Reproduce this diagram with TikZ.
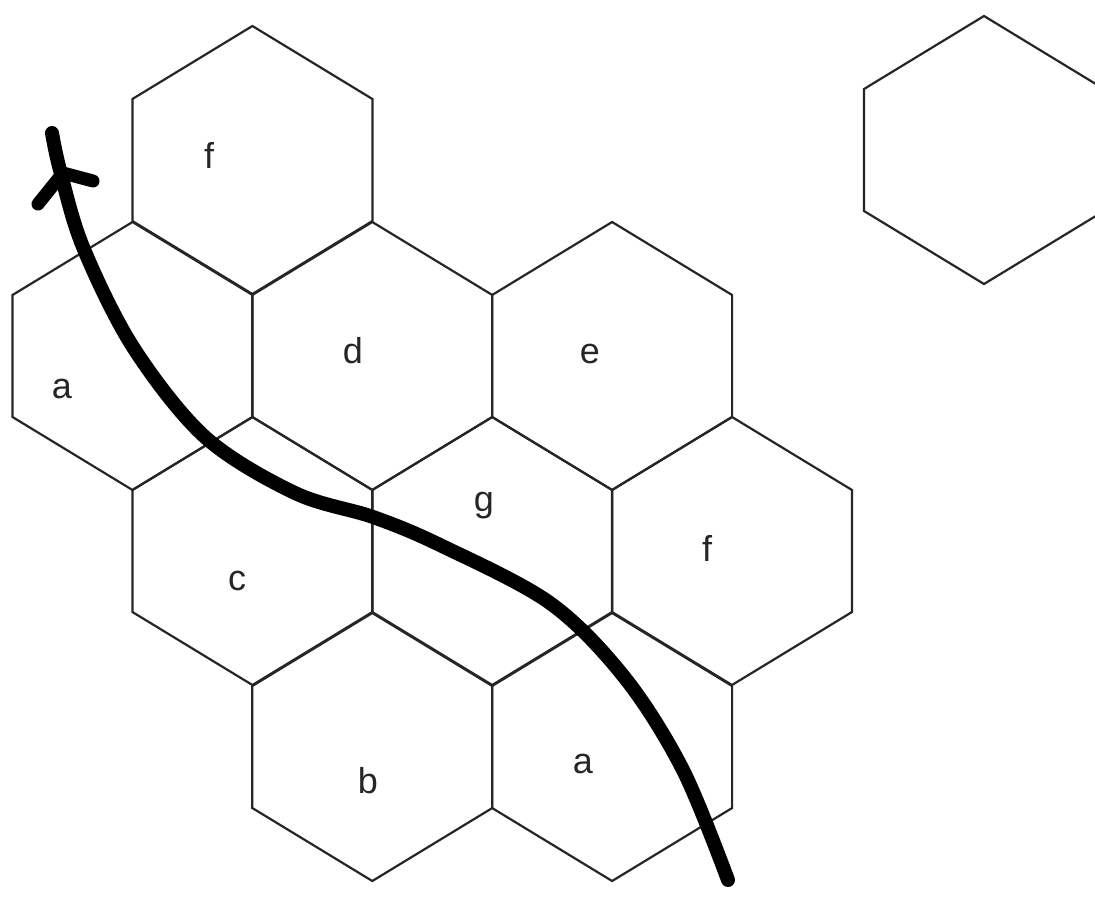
\documentclass[tikz,border=0pt]{standalone}
\usepackage{fontspec}
\setmainfont{Liberation Sans}
\newcommand\drawhexat[2]{\draw[hexcell] (#1,#2-134) -- (#1+120,#2-61) -- (#1+120,#2+61) -- (#1,#2+134) -- (#1-120,#2+61) -- (#1-120,#2-61) -- cycle;}
\begin{document}
\begin{tikzpicture}[x=1pt,y=-1pt,
  hexcell/.style={draw=black!85, line width=2.2pt, line join=miter},
  lbl/.style={anchor=base, inner sep=0pt, text=black!85, font=\fontsize{36}{40}\selectfont},
  thickpath/.style={line width=14pt, line cap=round, line join=round}]
\useasboundingbox (0,0) rectangle (1095,897);
\clip (0,0) rectangle (1095,897);
% hexagonal cells
\foreach \cx/\cy in {252.4/160, 132.5/356, 372.3/356, 612.1/356, 252.4/551, 492.2/551, 732/551, 372.3/747, 612.1/747, 984/150}
  {\drawhexat{\cx}{\cy}}
% labels
\node[lbl] (lf1) at (209,168) {f};
\node[lbl] (la1) at (62,398) {a};
\node[lbl] (ld) at (353,363) {d};
\node[lbl] (le) at (590,363) {e};
\node[lbl] (lg) at (484,511) {g};
\node[lbl] (lc) at (237,590) {c};
\node[lbl] (lf2) at (707,561) {f};
\node[lbl] (lb) at (368,793) {b};
\node[lbl] (la2) at (583,773) {a};
% thick hand-drawn arrow
\coordinate (start) at (728,880);
\coordinate (tip) at (52,133);
\coordinate (junction) at (63,173);
\coordinate (armL) at (38,204);
\coordinate (armR) at (93,181);
\draw[thickpath] plot[smooth, tension=0.55] coordinates {(728,880) (683,770) (625,678) (550,603) (440,545) (373,517) (295,493) (205,437) (133,347) (83,247) (60,170) (52,133)};
\draw[line width=13pt, line cap=round, line join=round] (armL) -- (junction) -- (armR);
\end{tikzpicture}
\end{document}
